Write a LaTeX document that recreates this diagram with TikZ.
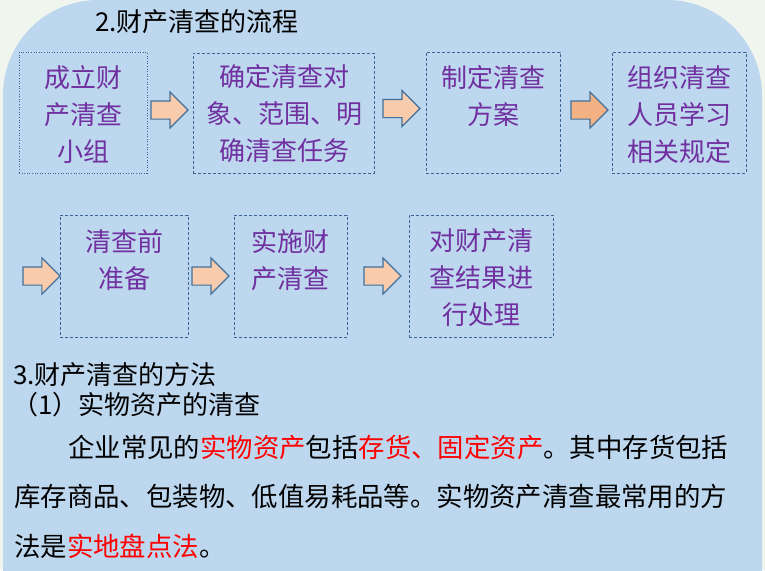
\documentclass[tikz,border=0pt]{standalone}
\usepackage{fontspec}
\newfontfamily\cjk{Noto Sans CJK SC}
\usetikzlibrary{shapes.arrows}
\definecolor{bgblue}{RGB}{189,215,238}
\definecolor{outside}{RGB}{240,246,238}
\definecolor{boxline}{RGB}{58,100,150}
\definecolor{purp}{RGB}{112,48,160}
\definecolor{arrfill}{RGB}{248,203,173}
\definecolor{arrdark}{RGB}{244,177,131}
\definecolor{arrline}{RGB}{65,113,156}
\definecolor{hl}{RGB}{255,0,0}
\tikzset{
  stepbox/.style={draw=boxline, line width=0.9pt, dash pattern=on 3pt off 2pt, inner sep=0pt},
  dotbox/.style={draw=boxline, line width=0.9pt, dash pattern=on 1pt off 1.6pt, inner sep=0pt},
  boxtext/.style={text=purp, align=center, inner sep=0pt, font=\cjk\fontsize{26}{37}\selectfont},
  blockarrow/.style={single arrow, draw=arrline, fill=arrfill, line width=1.1pt, minimum height=37pt, inner xsep=0pt, inner ysep=8.5pt, single arrow head extend=9pt, outer sep=0pt, anchor=tip},
  plain/.style={inner sep=0pt, anchor=base west, font=\cjk\fontsize{26}{30}\selectfont},
  para/.style={inner sep=0pt, anchor=base west, font=\cjk\fontsize{26.4}{30}\selectfont}
}
\begin{document}
\begin{tikzpicture}[x=1pt,y=-1pt]
\useasboundingbox (0,0) rectangle (765,570);
\fill[outside] (0,0) rectangle (765,570);
\fill[bgblue, rounded corners=95pt] (3,720) -- (3,0) -- (762,0) -- (762,720) -- cycle;

% title
\node[plain] (title) at (95,31) {2.财产清查的流程};

% row 1 boxes
\node[dotbox, minimum width=128pt, minimum height=121pt] (b1) at (83,112.5) {};
\node[stepbox, minimum width=181pt, minimum height=120pt] (b2) at (283.5,113) {};
\node[stepbox, minimum width=134pt, minimum height=121pt] (b3) at (493,112.5) {};
\node[stepbox, minimum width=134pt, minimum height=121pt] (b4) at (679,112.5) {};
% row 2 boxes
\node[stepbox, minimum width=128pt, minimum height=122pt] (b5) at (124,276) {};
\node[stepbox, minimum width=113pt, minimum height=122pt] (b6) at (290.5,276) {};
\node[stepbox, minimum width=144pt, minimum height=122pt] (b7) at (481,276) {};

% box texts
\node[boxtext] (t1) at (83,115) {成立财\\产清查\\小组};
\node[boxtext] (t2) at (284,114) {确定清查对\\象、范围、明\\确清查任务};
\node[boxtext] (t3) at (493,96.5) {制定清查\\方案};
\node[boxtext] (t4) at (679,115) {组织清查\\人员学习\\相关规定};
\node[boxtext] (t5) at (124,260) {清查前\\准备};
\node[boxtext] (t6) at (290,260) {实施财\\产清查};
\node[boxtext] (t7) at (481,278) {对财产清\\查结果进\\行处理};

% block arrows (placed by their tips)
\node[blockarrow] (a1) at (188,110) {};
\node[blockarrow] (a2) at (420,108.5) {};
\node[blockarrow, fill=arrdark] (a3) at (608,110) {};
\node[blockarrow] (a4) at (60,276) {};
\node[blockarrow] (a5) at (229,276) {};
\node[blockarrow] (a6) at (401,276) {};

% section 3
\node[plain] (s3) at (13,384) {3.财产清查的方法};
\node[plain] (s31) at (12,414) {（1）实物资产的清查};
\node[para] (p1) at (68,457) {企业常见的\textcolor{hl}{实物资产}包括\textcolor{hl}{存货、固定资产}。其中存货包括};
\node[para] (p2) at (14,506) {库存商品、包装物、低值易耗品等。实物资产清查最常用的方};
\node[para] (p3) at (14,556) {法是\textcolor{hl}{实地盘点法}。};
\end{tikzpicture}
\end{document}
